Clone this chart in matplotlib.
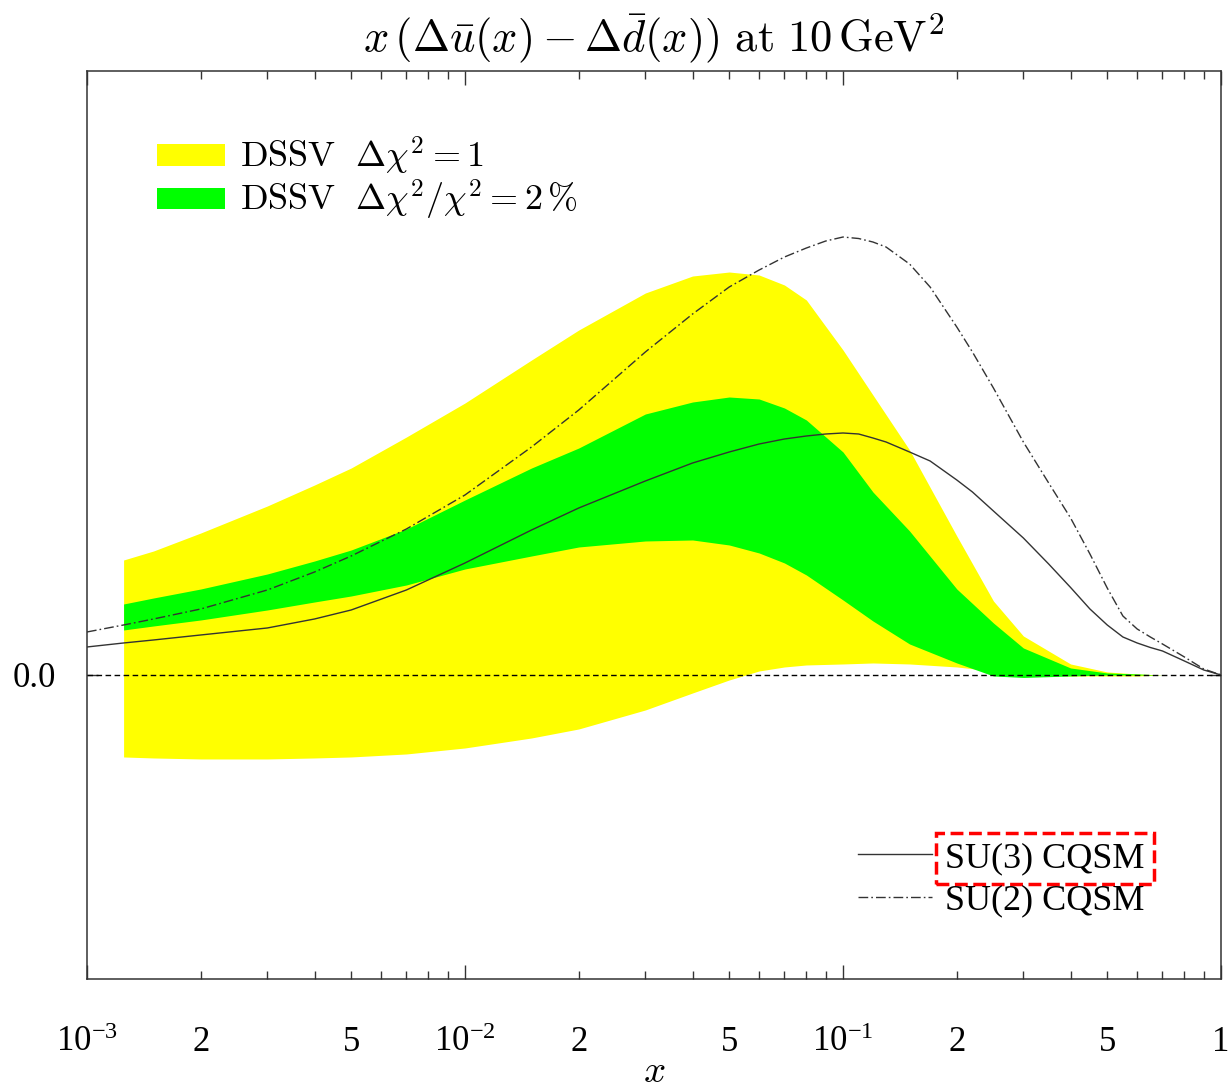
import numpy as np
import matplotlib
matplotlib.use('Agg')
import matplotlib.pyplot as plt
from matplotlib.patches import Patch
from matplotlib.lines import Line2D

plt.rcParams['font.family'] = ['Liberation Serif', 'DejaVu Serif']
plt.rcParams['mathtext.fontset'] = 'cm'

# DSSV uncertainty bands (arbitrary units, 1e-3)
band_x = [0.00125, 0.0015, 0.002, 0.003, 0.004, 0.005, 0.007, 0.01, 0.015, 0.02,
          0.03, 0.04, 0.05, 0.06, 0.07, 0.08, 0.1, 0.12, 0.15, 0.2,
          0.25, 0.3, 0.4, 0.5, 0.6, 0.7, 1.0]
yellow_hi = [11.5, 12.4, 14.2, 16.9, 19.0, 20.7, 23.8, 27.2, 31.5, 34.5,
             38.2, 39.9, 40.3, 40.0, 39.0, 37.5, 32.5, 28.0, 22.5, 13.9,
             7.4, 3.9, 1.1, 0.3, 0.1, 0.0, 0.0]
yellow_lo = [-8.2, -8.3, -8.4, -8.4, -8.3, -8.2, -7.9, -7.3, -6.3, -5.4,
             -3.5, -1.8, -0.5, 0.4, 0.8, 1.0, 1.1, 1.2, 1.1, 0.8,
             0.4, 0.1, -0.1, -0.1, -0.1, 0.0, 0.0]
green_hi = [7.1, 7.7, 8.6, 10.1, 11.4, 12.5, 14.6, 17.5, 20.7, 22.7,
            26.1, 27.3, 27.8, 27.6, 26.7, 25.5, 22.3, 18.3, 14.4, 8.6,
            5.2, 2.7, 0.7, 0.2, 0.1, 0.0, 0.0]
green_lo = [4.5, 4.9, 5.5, 6.5, 7.3, 7.9, 9.0, 10.6, 11.9, 12.8,
            13.4, 13.5, 13.0, 12.2, 11.2, 10.0, 7.5, 5.4, 3.1, 1.2,
            -0.1, -0.25, -0.1, 0.0, 0.0, 0.0, 0.0]

# chiral quark soliton model curves
model_x = [0.001, 0.00125, 0.0015, 0.002, 0.003, 0.004, 0.005, 0.007, 0.01, 0.015,
           0.02, 0.03, 0.04, 0.05, 0.06, 0.07, 0.08, 0.09, 0.1, 0.11,
           0.12, 0.13, 0.15, 0.17, 0.2, 0.22, 0.25, 0.3, 0.35, 0.4,
           0.45, 0.5, 0.55, 0.6, 0.65, 0.7, 0.8, 0.9, 1.0]
su3 = [2.8, 3.2, 3.5, 4.0, 4.7, 5.6, 6.5, 8.5, 11.2, 14.5,
       16.7, 19.4, 21.2, 22.3, 23.1, 23.6, 23.9, 24.1, 24.2, 24.1,
       23.7, 23.3, 22.3, 21.4, 19.5, 18.3, 16.4, 13.7, 11.1, 8.75,
       6.6, 5.0, 3.8, 3.2, 2.75, 2.4, 1.4, 0.5, 0.0]
su2 = [4.3, 5.0, 5.6, 6.6, 8.5, 10.3, 11.9, 14.6, 18.0, 22.8,
       26.5, 32.3, 36.1, 38.8, 40.5, 41.8, 42.7, 43.4, 43.8, 43.65,
       43.3, 42.8, 41.1, 38.8, 34.8, 32.3, 28.7, 23.3, 19.2, 15.7,
       12.1, 8.7, 5.9, 4.6, 3.8, 3.1, 1.8, 0.6, 0.0]

major_ticks = [1e-3, 1e-2, 1e-1, 1.0]
major_labels = [r'$\mathregular{10^{-3}}$', r'$\mathregular{10^{-2}}$',
                r'$\mathregular{10^{-1}}$', '1']

fig = plt.figure(figsize=(12.3, 10.91), dpi=100)
ax = fig.add_axes([0.0707, 0.1027, 0.922, 0.8322])

ax.fill_between(band_x, yellow_lo, yellow_hi, color='#ffff00', lw=0)
ax.fill_between(band_x, green_lo, green_hi, color='#00ff00', lw=0)
ax.axhline(0, color='black', lw=1.0, dashes=(4, 2.5), zorder=3)
ax.plot(model_x, su3, color='#333333', lw=1.0, zorder=4)
ax.plot(model_x, su2, color='#333333', lw=1.0, dashes=(7, 2.2, 1.2, 2.2), zorder=4)

ax.set_xscale('log')
ax.set_xlim(1e-3, 1.0)
ax.set_ylim(-30.4, 60.4)

minor = []
minor_labels = []
for dec in [1e-3, 1e-2, 1e-1]:
    for m in range(2, 10):
        minor.append(m * dec)
        minor_labels.append(str(m) if m in (2, 5) else '')
ax.set_xticks(major_ticks, major_labels)
ax.set_xticks(minor, minor_labels, minor=True)
ax.set_yticks([0.0], ['0.0'])

ax.tick_params(axis='x', which='both', direction='in', top=True, bottom=True,
               labelsize=25, pad=52, color='#333333')
ax.tick_params(axis='x', which='major', length=10, width=1.0)
ax.tick_params(axis='x', which='minor', length=5.5, width=1.0)
ax.tick_params(axis='y', direction='in', left=True, right=True, length=8,
               width=1.0, labelsize=25, pad=22, color='#333333')
for t in ax.xaxis.get_major_ticks() + ax.xaxis.get_minor_ticks():
    t.label1.set_verticalalignment('baseline')

for sp in ax.spines.values():
    sp.set_linewidth(1.1)
    sp.set_color('#333333')

ax.set_title(r'$x\,(\Delta\bar{u}(x)-\Delta\bar{d}(x))\ \mathrm{at}\ 10\,\mathrm{GeV}^2$',
             fontsize=32, pad=14)
fig.text(0.532, 0.008, r'$x$', fontsize=28, ha='center', va='baseline')

band_handles = [Patch(facecolor='#ffff00', edgecolor='none'),
                Patch(facecolor='#00ff00', edgecolor='none')]
leg1 = ax.legend(band_handles,
                 [r'$\mathrm{DSSV}\ \ \Delta\chi^2 = 1$',
                  r'$\mathrm{DSSV}\ \ \Delta\chi^2/\chi^2 = 2\,\%$'],
                 loc='upper left', bbox_to_anchor=(0.0617, 0.93), frameon=False,
                 fontsize=26, handlelength=1.89, handleheight=0.55,
                 handletextpad=0.42, labelspacing=0.05, borderpad=0, borderaxespad=0)
ax.add_artist(leg1)

line_handles = [Line2D([], [], color='#333333', lw=1.0),
                Line2D([], [], color='#333333', lw=1.0, dashes=(7, 2.2, 1.2, 2.2))]
leg2 = ax.legend(line_handles, ['SU(3) CQSM', 'SU(2) CQSM'],
                 loc='upper left', bbox_to_anchor=(0.680, 0.151), frameon=False,
                 fontsize=26, handlelength=2.05, handletextpad=0.36,
                 labelspacing=0.25, borderpad=0, borderaxespad=0)
leg2.get_texts()[0].set_bbox(dict(boxstyle='square,pad=0.25', facecolor='none',
                                  edgecolor='red', linestyle='--', linewidth=2.5))

fig.savefig('out.png', dpi=100)
